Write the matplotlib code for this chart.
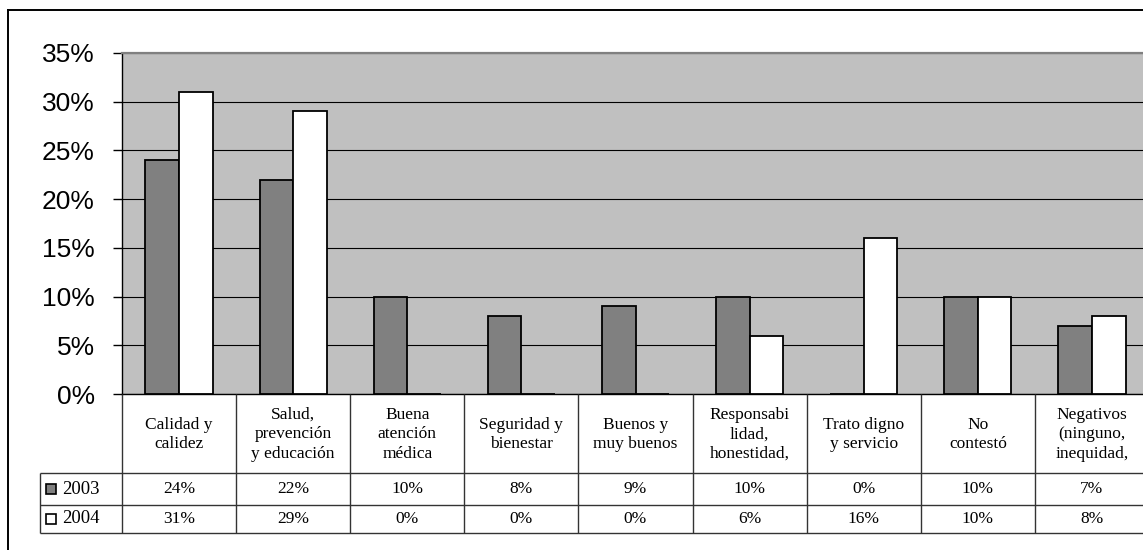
import matplotlib
matplotlib.use("Agg")
import matplotlib.pyplot as plt
from matplotlib.lines import Line2D

# Data (percent)
categories = [
    "Calidad y\ncalidez",
    "Salud,\nprevención\ny educación",
    "Buena\natención\nmédica",
    "Seguridad y\nbienestar",
    "Buenos y\nmuy buenos",
    "Responsabi\nlidad,\nhonestidad,",
    "Trato digno\ny servicio",
    "No\ncontestó",
    "Negativos\n(ninguno,\ninequidad,",
]
series_names = ["2003", "2004"]
values_2003 = [24, 22, 10, 8, 9, 10, 0, 10, 7]
values_2004 = [31, 29, 0, 0, 0, 6, 16, 10, 8]
y_ticks = [0, 5, 10, 15, 20, 25, 30, 35]

W, H = 1143, 550
DARK = "#808080"
PLOT_BG = "#C0C0C0"
SANS = "Liberation Sans"
SERIF = "Liberation Serif"

fig = plt.figure(figsize=(W / 100, H / 100), dpi=100)

# pixel geometry of the plot area (extends a bit past the right edge, as in the reference)
left_px, right_px, top_px, bottom_px = 122, 1149, 53, 394
cat_w = (right_px - left_px) / len(categories)

ax = fig.add_axes([left_px / W, 1 - bottom_px / H,
                   (right_px - left_px) / W, (bottom_px - top_px) / H])
ax.set_facecolor(PLOT_BG)

n = len(categories)
x = list(range(n))
bw = 0.295
ax.bar([i - bw / 2 for i in x], values_2003, width=bw, color=DARK,
       edgecolor="black", linewidth=1.3, zorder=3)
ax.bar([i + bw / 2 for i in x], values_2004, width=bw, color="white",
       edgecolor="black", linewidth=1.3, zorder=3)

ax.set_xlim(-0.5, n - 0.5)
ax.set_ylim(0, 35)
ax.set_yticks(y_ticks)
ax.set_yticklabels([f"{t}%" for t in y_ticks], fontfamily=SANS, fontsize=19)
ax.tick_params(axis="y", direction="out", length=6.5, width=1, pad=13, colors="black")
ax.set_xticks([])
ax.grid(axis="y", color="black", linewidth=0.8)
ax.set_axisbelow(True)
for side in ["left", "bottom"]:
    ax.spines[side].set_color("black")
    ax.spines[side].set_linewidth(1.0)
ax.spines["top"].set_color(DARK)
ax.spines["top"].set_linewidth(1.6)
ax.spines["right"].set_visible(False)

# data table below the plot
tab_left_px, tab_bottom_px = 40, 532.7
tab = fig.add_axes([tab_left_px / W, 1 - tab_bottom_px / H,
                    (right_px - tab_left_px) / W, (tab_bottom_px - bottom_px) / H])
x_left = -0.5 - (left_px - tab_left_px) / cat_w
tab.set_xlim(x_left, n - 0.5)
row_edges = [0, 79, 111, tab_bottom_px - bottom_px]
tab.set_ylim(row_edges[-1], 0)
tab.axis("off")

line_kw = dict(colors="#333333", linewidth=1.0, clip_on=False)
for k in range(n + 1):
    tab.vlines(-0.5 + k, row_edges[0], row_edges[-1], **line_kw)
tab.vlines(x_left, row_edges[1], row_edges[-1], **line_kw)
for r in row_edges[1:]:
    tab.hlines(r, x_left, n - 0.5, **line_kw)

for i, label in enumerate(categories):
    tab.text(i, (row_edges[0] + row_edges[1]) / 2 + 1, label, ha="center",
             va="center", fontfamily=SERIF, fontsize=12.5, linespacing=1.3)

rows = [values_2003, values_2004]
fills = [DARK, "white"]
key_x = x_left + (51.5 - tab_left_px) / cat_w
text_x = x_left + (62 - tab_left_px) / cat_w
for r, (vals, name, fill) in enumerate(zip(rows, series_names, fills)):
    yc = (row_edges[r + 1] + row_edges[r + 2]) / 2
    tab.plot([key_x], [yc], marker="s", markersize=7, markerfacecolor=fill,
             markeredgecolor="black", markeredgewidth=1.2, clip_on=False)
    tab.text(text_x, yc, name, ha="left", va="center", fontfamily=SERIF,
             fontsize=13.5)
    for i, v in enumerate(vals):
        tab.text(i, yc, f"{v}%", ha="center", va="center", fontfamily=SERIF,
                 fontsize=12.5)

# outer chart frame (only left and top edges fall inside the picture)
fig.add_artist(Line2D([8 / W, 8 / W], [0, 1 - 9.5 / H], color="black", linewidth=1.4))
fig.add_artist(Line2D([8 / W, 1], [1 - 9.5 / H, 1 - 9.5 / H], color="black", linewidth=1.4))

fig.savefig("out.png", dpi=100, facecolor="white")
